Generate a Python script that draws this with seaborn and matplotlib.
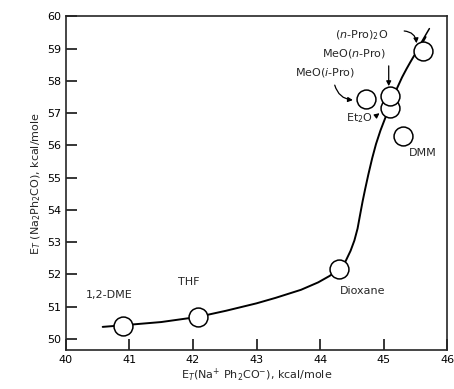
import numpy as np
import pandas as pd
import seaborn as sns
import matplotlib.pyplot as plt

# solvent points
solvents = ['1,2-DME', 'THF', 'Dioxane', 'MeO(i-Pro)', 'Et2O', 'MeO(n-Pro)', '(n-Pro)2O', 'DMM']
et_na_ph2co = [40.90, 42.08, 44.30, 44.73, 45.10, 45.10, 45.62, 45.31]
et_na2_ph2co = [50.40, 50.68, 52.17, 57.45, 57.16, 57.52, 58.93, 56.30]

# hand drawn trend curve
curve_x = [40.58, 40.90, 41.50, 42.08, 42.52, 43.00, 43.30, 43.70, 43.97, 44.15, 44.30, 44.40, 44.48,
           44.54, 44.59, 44.63, 44.67, 44.71, 44.76, 44.82, 44.88, 44.95, 45.02, 45.10, 45.19,
           45.29, 45.36, 45.42, 45.48, 45.55, 45.61, 45.66]
curve_y = [50.37, 50.42, 50.52, 50.68, 50.87, 51.10, 51.27, 51.52, 51.75, 51.95, 52.17, 52.40, 52.73,
           53.05, 53.42, 53.85, 54.27, 54.65, 55.10, 55.60, 56.04, 56.46, 56.82, 57.20, 57.68,
           58.11, 58.37, 58.58, 58.78, 58.98, 59.18, 59.36]

pts = pd.DataFrame({'x': et_na_ph2co, 'y': et_na2_ph2co, 'solvent': solvents})
curve = pd.DataFrame({'x': curve_x, 'y': curve_y})

sns.set_style('ticks')
plt.rcParams['font.family'] = ['DejaVu Sans']

fig = plt.figure(figsize=(4.54, 3.89), dpi=100)
ax = fig.add_axes([0.145, 0.100, 0.840, 0.858])

sns.lineplot(data=curve, x='x', y='y', sort=False, color='black', linewidth=1.4, ax=ax, zorder=2)
sns.scatterplot(data=pts, x='x', y='y', s=185, facecolor='white', edgecolor='black', linewidth=1.1,
                ax=ax, zorder=3, legend=False)

# little stroke at the top end of the curve
ax.plot([45.55, 45.72], [59.05, 59.62], color='black', lw=1.1)

fs = 8
ax.text(40.69, 51.37, '1,2-DME', fontsize=fs, ha='center', va='center')
ax.text(41.94, 51.75, 'THF', fontsize=fs, ha='center', va='center')
ax.text(44.67, 51.49, 'Dioxane', fontsize=fs, ha='center', va='center')
ax.text(45.61, 55.75, 'DMM', fontsize=fs, ha='center', va='center')
ax.text(44.62, 56.85, 'Et$_2$O', fontsize=fs, ha='center', va='center')
ax.text(44.08, 58.26, 'MeO($\\it{i}$-Pro)', fontsize=fs, ha='center', va='center')
ax.text(44.53, 58.85, 'MeO($\\it{n}$-Pro)', fontsize=fs, ha='center', va='center')
ax.text(44.66, 59.42, '($\\it{n}$-Pro)$_2$O', fontsize=fs, ha='center', va='center')

arr = dict(arrowstyle='-|>', color='black', lw=0.9, mutation_scale=7)
ax.annotate('', xy=(44.56, 57.40), xytext=(44.22, 57.95),
            arrowprops=dict(connectionstyle='arc3,rad=0.4', **arr))
ax.annotate('', xy=(44.97, 57.05), xytext=(44.86, 56.88), arrowprops=arr)
ax.annotate('', xy=(45.08, 57.75), xytext=(45.08, 58.55), arrowprops=arr)
ax.annotate('', xy=(45.52, 59.08), xytext=(45.28, 59.55),
            arrowprops=dict(connectionstyle='arc3,rad=-0.5', **arr))

ax.set_xlim(40, 46)
ax.set_ylim(49.65, 60)
ax.set_xticks(range(40, 47))
ax.set_yticks(range(50, 61))
ax.tick_params(direction='in', length=8, width=1.1, labelsize=fs, colors='black')
for s in ax.spines.values():
    s.set_linewidth(1.2)
    s.set_visible(True)

ax.set_xlabel('E$_T$(Na$^{+}$ Ph$_2$CO$^{-}$), kcal/mole', fontsize=fs, labelpad=1)
ax.set_ylabel('E$_T$ (Na$_2$Ph$_2$CO), kcal/mole', fontsize=fs, labelpad=3)

fig.savefig('out.png', dpi=100)
